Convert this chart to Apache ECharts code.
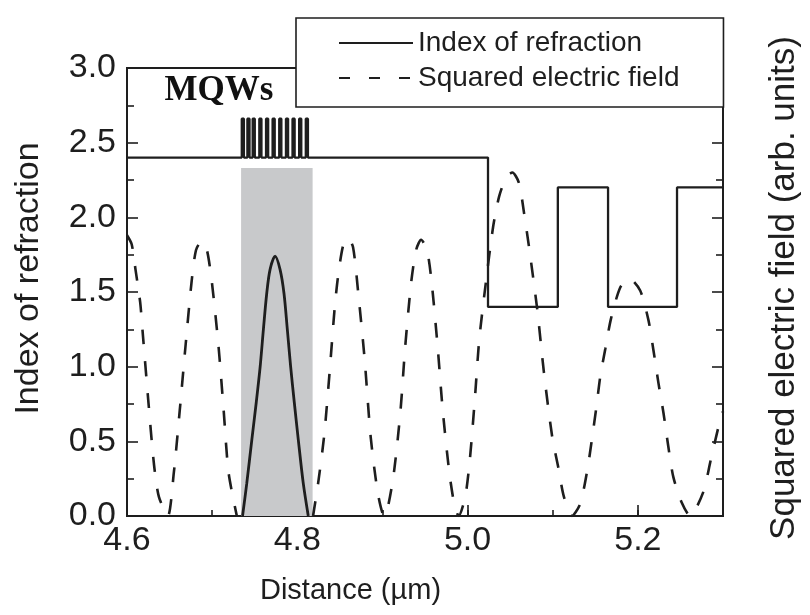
<!DOCTYPE html>
<html>
<head>
<meta charset="utf-8">
<title>Index of refraction and squared electric field</title>
<script src="https://cdn.jsdelivr.net/npm/echarts@6.0.0/dist/echarts.min.js"></script>
<style>
  html, body { margin: 0; padding: 0; background: #fff; }
  #chart { width: 810px; height: 615px; }
</style>
</head>
<body>
<div id="chart"></div>
<script>
// refractive index profile: [distance (um), index from that point on]
const indexProfile = [
  [4.6, 2.4],
  [4.7348, 2.66], [4.7373, 2.4],
  [4.7414, 2.66], [4.7439, 2.4],
  [4.7476, 2.66], [4.7501, 2.4],
  [4.7554, 2.66], [4.7579, 2.4],
  [4.7633, 2.66], [4.7658, 2.4],
  [4.771, 2.66], [4.7735, 2.4],
  [4.7788, 2.66], [4.7813, 2.4],
  [4.7867, 2.66], [4.7892, 2.4],
  [4.7944, 2.66], [4.7969, 2.4],
  [4.8022, 2.66], [4.8047, 2.4],
  [4.81, 2.66], [4.8125, 2.4],
  [5.024, 1.4], [5.106, 2.2], [5.165, 1.4], [5.246, 2.2], [5.3, 2.2]
];

// squared electric field outside the MQWs (dashed), '-' = gap
const fieldDashed = [
  [4.6, 1.88], [4.6055, 1.82], [4.61, 1.65], [4.6155, 1.43], [4.6187, 1.21], [4.6249, 0.78],
  [4.6316, 0.35], [4.6374, 0.13], [4.648, 0],
  [4.655, 0.29], [4.662, 0.71], [4.6686, 1.13], [4.6757, 1.56], [4.681, 1.78], [4.6877, 1.84],
  [4.6939, 1.78], [4.6998, 1.56], [4.7076, 1.13], [4.7135, 0.71], [4.7193, 0.29], [4.729, 0],
  [4.774, '-'],
  [4.8185, 0], [4.8245, 0.22], [4.8316, 0.54], [4.8382, 0.98], [4.844, 1.4], [4.848, 1.61],
  [4.8538, 1.81], [4.8596, 1.86], [4.8655, 1.8], [4.8713, 1.51], [4.8791, 1.05], [4.8862, 0.53],
  [4.8947, 0.15], [4.902, 0],
  [4.9064, 0.06], [4.9135, 0.29], [4.9213, 0.71], [4.9267, 1.13], [4.9337, 1.56], [4.9395, 1.78],
  [4.9454, 1.85], [4.9524, 1.78], [4.9579, 1.56], [4.9649, 1.13], [4.9708, 0.71], [4.9786, 0.29],
  [4.9844, 0.08], [4.9895, 0],
  [4.9973, 0.13], [5.0027, 0.38], [5.0085, 0.78], [5.0137, 1.18], [5.0214, 1.56], [5.0301, 1.94],
  [5.0371, 2.14], [5.0455, 2.27], [5.0526, 2.3], [5.0604, 2.23], [5.0663, 2.03], [5.0722, 1.8],
  [5.0819, 1.38], [5.0897, 0.96], [5.0994, 0.53], [5.1064, 0.33], [5.1131, 0.13], [5.1225, 0],
  [5.1322, 0.08], [5.1407, 0.31], [5.1462, 0.52], [5.1513, 0.73], [5.156, 0.94], [5.1618, 1.12],
  [5.1684, 1.32], [5.1793, 1.53], [5.19, 1.59], [5.2027, 1.51], [5.2125, 1.31], [5.2183, 1.11],
  [5.2242, 0.89], [5.2301, 0.69], [5.2359, 0.46], [5.2417, 0.26], [5.2515, 0.09], [5.2614, 0],
  [5.2768, 0.16], [5.2854, 0.37], [5.2944, 0.59], [5.3, 0.7]
];

// squared electric field inside the MQWs (solid)
const fieldInMqw = [
  [4.7357, 0], [4.7407, 0.22], [4.7466, 0.51], [4.7518, 0.76], [4.7564, 1.0], [4.7602, 1.25],
  [4.7641, 1.49], [4.768, 1.65], [4.7739, 1.74], [4.7798, 1.65], [4.7844, 1.49], [4.7883, 1.25],
  [4.7922, 1.0], [4.7965, 0.76], [4.8012, 0.51], [4.807, 0.22], [4.8129, 0]
];

// shaded MQW region
const mqwRegion = [4.734, 4.818];
const mqwRegionTop = 2.33;

const ink = '#1e1e1e';
const sans = '"Liberation Sans", Arial, Helvetica, sans-serif';

const tickStyle = { color: ink, width: 1.6 };

const option = {
  animation: false,
  backgroundColor: '#fff',
  grid: {
    left: 127, right: 82, top: 68, bottom: 99,
    show: true, borderColor: ink, borderWidth: 2, backgroundColor: 'transparent'
  },
  legend: {
    orient: 'vertical',
    left: 296,
    top: 18,
    padding: [10, 44, 14, 42],
    itemWidth: 74,
    itemHeight: 14,
    itemGap: 5,
    backgroundColor: '#fff',
    borderColor: ink,
    borderWidth: 1.6,
    selectedMode: false,
    textStyle: { fontFamily: sans, fontSize: 28, lineHeight: 30, color: ink },
    data: [
      {
        name: 'Index of refraction',
        lineStyle: { color: ink, width: 2, type: 'solid' },
        itemStyle: { color: 'rgba(0,0,0,0)', borderWidth: 0, opacity: 0 }
      },
      {
        name: 'Squared electric field',
        lineStyle: { color: ink, width: 2, type: [11, 19] },
        itemStyle: { color: 'rgba(0,0,0,0)', borderWidth: 0, opacity: 0 }
      }
    ]
  },
  graphic: {
    elements: [{
      type: 'text',
      x: 219,
      y: 90.5,
      silent: true,
      style: {
        text: 'MQWs',
        fontFamily: '"Liberation Serif", "Times New Roman", serif',
        fontWeight: 'bold',
        fontSize: 35,
        fill: '#111',
        align: 'center',
        verticalAlign: 'middle'
      }
    }]
  },
  xAxis: [
    {
      // minor ticks every 0.1
      type: 'value', min: 4.6, max: 5.3, interval: 0.1, position: 'bottom',
      axisLine: { show: true, lineStyle: { color: ink, width: 2 } },
      axisTick: { inside: true, length: 6, lineStyle: tickStyle },
      axisLabel: { show: false },
      splitLine: { show: false }
    },
    {
      // major ticks + labels every 0.2
      type: 'value', min: 4.6, max: 5.3, interval: 0.2, position: 'bottom',
      axisLine: { show: false },
      axisTick: { inside: true, length: 11, lineStyle: tickStyle },
      axisLabel: {
        fontFamily: sans, fontSize: 34, color: ink, margin: 8,
        showMaxLabel: false,
        formatter: (v) => v.toFixed(1)
      },
      splitLine: { show: false },
      name: 'Distance (µm)',
      nameLocation: 'middle',
      nameGap: 60,
      nameTextStyle: { fontFamily: sans, fontSize: 29, lineHeight: 29, color: ink, padding: [0, 149, 0, 0] }
    }
  ],
  yAxis: [
    {
      type: 'value', min: 0, max: 3, interval: 0.5, position: 'left',
      axisLine: { show: true, lineStyle: { color: ink, width: 2 } },
      axisTick: { inside: true, length: 11, lineStyle: tickStyle },
      minorTick: { show: true, splitNumber: 2, length: 7, lineStyle: tickStyle },
      axisLabel: { fontFamily: sans, fontSize: 34, color: ink, margin: 11, formatter: (v) => v.toFixed(1) },
      splitLine: { show: false },
      name: 'Index of refraction',
      nameLocation: 'middle',
      nameGap: 81,
      nameTextStyle: { fontFamily: sans, fontSize: 34, lineHeight: 34, color: ink, padding: [0, 0, 0, 27] }
    },
    {
      type: 'value', min: 0, max: 3, interval: 0.5, position: 'right',
      axisLine: { show: true, lineStyle: { color: ink, width: 2 } },
      axisTick: { inside: true, length: 11, lineStyle: tickStyle },
      minorTick: { show: true, splitNumber: 2, length: 7, lineStyle: tickStyle },
      axisLabel: { show: false },
      splitLine: { show: false },
      name: 'Squared electric field (arb. units)',
      nameLocation: 'middle',
      nameGap: 44,
      nameTextStyle: { fontFamily: sans, fontSize: 35, lineHeight: 35, color: ink, padding: [0, 0, 0, 8] }
    }
  ],
  series: [
    {
      name: 'Index of refraction',
      type: 'line',
      step: 'end',
      data: indexProfile,
      symbol: 'none',
      lineStyle: { color: ink, width: 2.3 },
      itemStyle: { color: ink },
      z: 3,
      markArea: {
        silent: true,
        itemStyle: { color: '#c8c9cb', opacity: 1 },
        data: [[
          { coord: [mqwRegion[0], 0] },
          { coord: [mqwRegion[1], mqwRegionTop] }
        ]]
      }
    },
    {
      name: 'Squared electric field',
      type: 'line',
      yAxisIndex: 1,
      data: fieldDashed,
      symbol: 'none',
      smooth: 0.25,
      connectNulls: false,
      lineStyle: { color: ink, width: 2.6, type: [15, 17] },
      itemStyle: { color: ink },
      z: 3
    },
    {
      name: 'Field in MQWs',
      type: 'line',
      yAxisIndex: 1,
      data: fieldInMqw,
      symbol: 'none',
      smooth: 0.3,
      lineStyle: { color: ink, width: 2.8 },
      itemStyle: { color: ink },
      z: 3
    }
  ]
};

const chart = echarts.init(document.getElementById('chart'), null, { renderer: 'canvas' });
chart.setOption(option);
</script>
</body>
</html>
